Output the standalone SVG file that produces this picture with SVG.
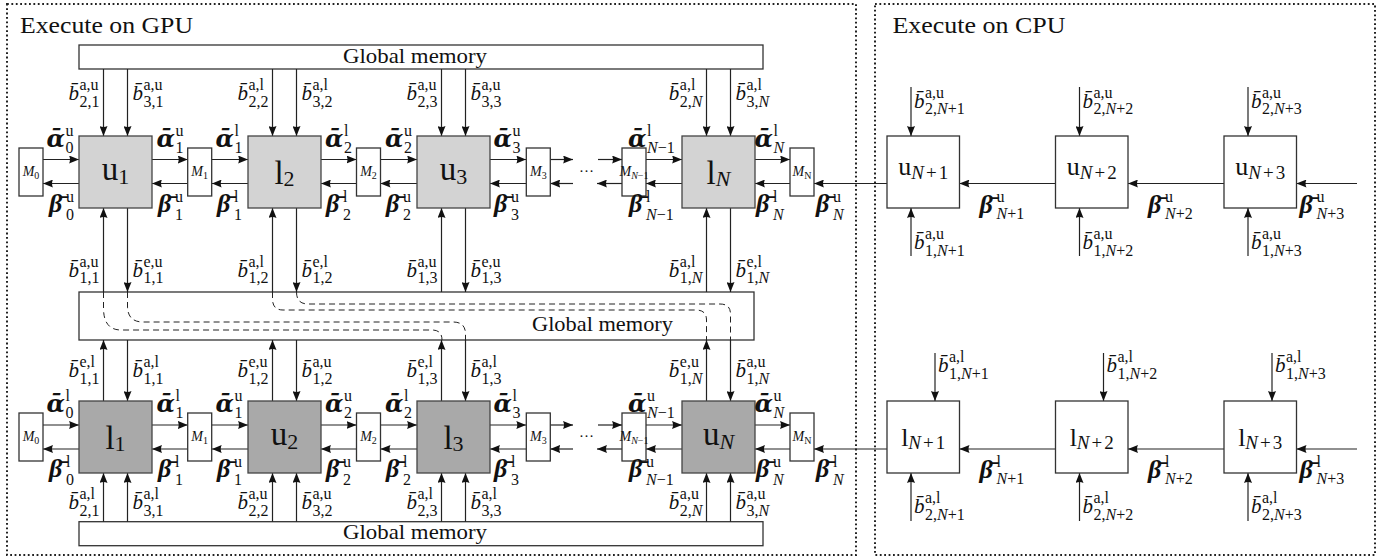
<svg xmlns="http://www.w3.org/2000/svg" width="1396" height="558" viewBox="0 0 1396 558" font-family="'Liberation Serif', serif">
<defs>
<marker id="ah" viewBox="0 0 10 8" refX="10" refY="4" markerWidth="10" markerHeight="8" markerUnits="userSpaceOnUse" orient="auto"><path d="M0,0 L10,4 L0,8 Q2,4 0,0 z" fill="#111"/></marker>
<style>
.frame{fill:none;stroke:#222;stroke-width:2;stroke-dasharray:1.8 2.6}
.box{fill:#fff;stroke:#333;stroke-width:1.3}
.nu{fill:#d3d3d3;stroke:#444;stroke-width:1.3}
.nd{fill:#a9a9a9;stroke:#444;stroke-width:1.3}
.ar{stroke:#222;stroke-width:1.2;fill:none;marker-end:url(#ah)}
.dash{stroke:#222;stroke-width:1;fill:none;stroke-dasharray:6 4}
.tx{font-family:'Liberation Serif','Times New Roman',serif;fill:#111}
.big{font-size:24px}
.gm{font-size:22px}
.b{font-size:21px;font-style:italic}
.s{font-size:16px;font-style:normal;font-weight:normal;font-family:'Liberation Serif',serif}
.i{font-style:italic}
.g{font-family:'DejaVu Serif',serif;font-weight:bold;font-style:italic;font-size:24px}
.gb{font-family:'Liberation Serif',serif;font-weight:bold;font-style:italic;font-size:26px}
.nl{font-size:33px}
.ns{font-size:22px}
.cl{font-size:26px}
.cs{font-size:19px}
.ml{font-size:14px;font-style:italic}
.ms{font-size:10px;font-style:normal}
</style>
</defs>

<g id="frames">
<rect id="gpu-frame" class="frame" x="7" y="4" width="849" height="551"/>
<rect id="cpu-frame" class="frame" x="875" y="4" width="500" height="551"/>
<text class="tx big" x="20" y="33.3" textLength="173" lengthAdjust="spacingAndGlyphs">Execute on GPU</text>
<text class="tx big" x="892.5" y="33.3" textLength="173" lengthAdjust="spacingAndGlyphs">Execute on CPU</text>
</g>

<g id="memory">
<g id="gm-top"><rect class="box" x="79" y="45" width="684" height="24"/><text class="tx gm" x="343" y="63" textLength="144" lengthAdjust="spacingAndGlyphs">Global memory</text></g>
<g id="gm-mid"><rect class="box" x="79" y="292" width="675" height="48"/><text class="tx gm" x="532" y="331" textLength="141" lengthAdjust="spacingAndGlyphs">Global memory</text></g>
<g id="gm-bot"><rect class="box" x="79" y="521.7" width="684" height="24"/><text class="tx gm" x="343" y="538.5" textLength="144" lengthAdjust="spacingAndGlyphs">Global memory</text></g>
</g>

<g id="connectors">
<path class="dash" d="M103.5,292 L103.5,308 Q103.5,330 121,330 L432,330 Q442,330 442,340"/>
<path class="dash" d="M127.5,292 L127.5,306 Q127.5,322 143,322 L453,322 Q465.5,322 465.5,334 L465.5,340"/>
<path class="dash" d="M272.5,292 L272.5,299 Q272.5,310 283,310 L696,310 Q706.5,310 706.5,320 L706.5,340"/>
<path class="dash" d="M296.5,292 Q296.5,304 308,304 L720,304 Q730.5,304 730.5,314 L730.5,340"/>

<path class="ar" d="M103.5,69 V136"/><path class="ar" d="M127.5,69 V136"/>
<path class="ar" d="M272.5,69 V136"/><path class="ar" d="M296.5,69 V136"/>
<path class="ar" d="M441.5,69 V136"/><path class="ar" d="M465.5,69 V136"/>
<path class="ar" d="M706.5,69 V136"/><path class="ar" d="M730.5,69 V136"/>
<path class="ar" d="M103.5,292 V208"/><path class="ar" d="M127.5,208 V292"/>
<path class="ar" d="M272.5,292 V208"/><path class="ar" d="M296.5,208 V292"/>
<path class="ar" d="M441.5,292 V208"/><path class="ar" d="M465.5,208 V292"/>
<path class="ar" d="M706.5,292 V208"/><path class="ar" d="M730.5,208 V292"/>
<path class="ar" d="M103.5,401 V340"/><path class="ar" d="M127.5,340 V401"/>
<path class="ar" d="M272.5,401 V340"/><path class="ar" d="M296.5,340 V401"/>
<path class="ar" d="M441.5,401 V340"/><path class="ar" d="M465.5,340 V401"/>
<path class="ar" d="M706.5,401 V340"/><path class="ar" d="M730.5,340 V401"/>
<path class="ar" d="M103.5,521.7 V473"/><path class="ar" d="M127.5,521.7 V473"/>
<path class="ar" d="M272.5,521.7 V473"/><path class="ar" d="M296.5,521.7 V473"/>
<path class="ar" d="M441.5,521.7 V473"/><path class="ar" d="M465.5,521.7 V473"/>
<path class="ar" d="M706.5,521.7 V473"/><path class="ar" d="M730.5,521.7 V473"/>

<path class="ar" d="M43,159.5 H79"/><path class="ar" d="M152,159.5 H187.7"/>
<path class="ar" d="M211.7,159.5 H248"/><path class="ar" d="M321,159.5 H356.5"/>
<path class="ar" d="M380.5,159.5 H417"/><path class="ar" d="M490,159.5 H526.3"/>
<path class="ar" d="M550.3,159.5 H573"/><path class="ar" d="M598,159.5 H622"/>
<path class="ar" d="M646,159.5 H682"/><path class="ar" d="M755,159.5 H790"/>
<path class="ar" d="M79,183.5 H43"/><path class="ar" d="M187.7,183.5 H152"/>
<path class="ar" d="M248,183.5 H211.7"/><path class="ar" d="M356.5,183.5 H321"/>
<path class="ar" d="M417,183.5 H380.5"/><path class="ar" d="M526.3,183.5 H490"/>
<path class="ar" d="M573,183.5 H550.3"/><path class="ar" d="M622,183.5 H597"/>
<path class="ar" d="M682,183.5 H646"/><path class="ar" d="M790,183.5 H755"/>
<path class="ar" d="M887,183.5 H814"/>
<path class="ar" d="M43,425 H79"/><path class="ar" d="M152,425 H187.7"/>
<path class="ar" d="M211.7,425 H248"/><path class="ar" d="M321,425 H356.5"/>
<path class="ar" d="M380.5,425 H417"/><path class="ar" d="M490,425 H526.3"/>
<path class="ar" d="M550.3,425 H573"/><path class="ar" d="M598,425 H622"/>
<path class="ar" d="M646,425 H682"/><path class="ar" d="M755,425 H790"/>
<path class="ar" d="M79,449 H43"/><path class="ar" d="M187.7,449 H152"/>
<path class="ar" d="M248,449 H211.7"/><path class="ar" d="M356.5,449 H321"/>
<path class="ar" d="M417,449 H380.5"/><path class="ar" d="M526.3,449 H490"/>
<path class="ar" d="M573,449 H550.3"/><path class="ar" d="M622,449 H597"/>
<path class="ar" d="M682,449 H646"/><path class="ar" d="M790,449 H755"/>
<path class="ar" d="M887,449 H814"/>

<path class="ar" d="M1055.5,183.5 H959.5"/><path class="ar" d="M1224,183.5 H1128"/><path class="ar" d="M1357,183.5 H1296.5"/>
<path class="ar" d="M1055.5,449 H959.5"/><path class="ar" d="M1224,449 H1128"/><path class="ar" d="M1357,449 H1296.5"/>
<path class="ar" d="M911,87 V136"/><path class="ar" d="M1079.5,87 V136"/><path class="ar" d="M1248,87 V136"/>
<path class="ar" d="M911,256 V208"/><path class="ar" d="M1079.5,256 V208"/><path class="ar" d="M1248,256 V208"/>
<path class="ar" d="M935,353 V401"/><path class="ar" d="M1103.5,353 V401"/><path class="ar" d="M1272,353 V401"/>
<path class="ar" d="M911,521 V473"/><path class="ar" d="M1079.5,521 V473"/><path class="ar" d="M1248,521 V473"/>
</g>

<g id="gpu-upper">
<g id="node-u1"><rect class="nu" x="79" y="136" width="73" height="72"/><text class="tx nl" x="115.5" y="180" text-anchor="middle">u<tspan class="ns" dy="4">1</tspan></text></g>
<g id="node-l2"><rect class="nu" x="248" y="136" width="73" height="72"/><text class="tx nl" x="284.5" y="184" text-anchor="middle">l<tspan class="ns" dy="2">2</tspan></text></g>
<g id="node-u3"><rect class="nu" x="417" y="136" width="73" height="72"/><text class="tx nl" x="453.5" y="180" text-anchor="middle">u<tspan class="ns" dy="4">3</tspan></text></g>
<g id="node-lN"><rect class="nu" x="682" y="136" width="73" height="72"/><text class="tx nl" x="718.5" y="184" text-anchor="middle">l<tspan class="ns i" dy="2">N</tspan></text></g>
</g>
<g id="gpu-lower">
<g id="node-l1"><rect class="nd" x="79" y="401" width="73" height="72"/><text class="tx nl" x="115.5" y="449" text-anchor="middle">l<tspan class="ns" dy="2">1</tspan></text></g>
<g id="node-u2"><rect class="nd" x="248" y="401" width="73" height="72"/><text class="tx nl" x="284.5" y="445" text-anchor="middle">u<tspan class="ns" dy="4">2</tspan></text></g>
<g id="node-l3"><rect class="nd" x="417" y="401" width="73" height="72"/><text class="tx nl" x="453.5" y="449" text-anchor="middle">l<tspan class="ns" dy="2">3</tspan></text></g>
<g id="node-uN"><rect class="nd" x="682" y="401" width="73" height="72"/><text class="tx nl" x="718.5" y="445" text-anchor="middle">u<tspan class="ns i" dy="4">N</tspan></text></g>
</g>

<g id="m-boxes">
<g id="M0-up"><rect class="box" x="19" y="148" width="24" height="48"/><text class="tx ml" x="31" y="176" text-anchor="middle">M<tspan class="ms" dy="2.5">0</tspan></text></g>
<g id="M1-up"><rect class="box" x="187.7" y="148" width="24" height="48"/><text class="tx ml" x="199.7" y="176" text-anchor="middle">M<tspan class="ms" dy="2.5">1</tspan></text></g>
<g id="M2-up"><rect class="box" x="356.5" y="148" width="24" height="48"/><text class="tx ml" x="368.5" y="176" text-anchor="middle">M<tspan class="ms" dy="2.5">2</tspan></text></g>
<g id="M3-up"><rect class="box" x="526.3" y="148" width="24" height="48"/><text class="tx ml" x="538.3" y="176" text-anchor="middle">M<tspan class="ms" dy="2.5">3</tspan></text></g>
<g id="MNm1-up"><rect class="box" x="622" y="148" width="24" height="48"/><text class="tx ml" x="634" y="176" text-anchor="middle">M<tspan class="ms" dy="2.5"><tspan class="i">N</tspan>−1</tspan></text></g>
<g id="MN-up"><rect class="box" x="790" y="148" width="24" height="48"/><text class="tx ml" x="802" y="176" text-anchor="middle">M<tspan class="ms i" dy="2.5">N</tspan></text></g>
<g id="M0-lo"><rect class="box" x="19" y="413" width="24" height="48"/><text class="tx ml" x="31" y="441" text-anchor="middle">M<tspan class="ms" dy="2.5">0</tspan></text></g>
<g id="M1-lo"><rect class="box" x="187.7" y="413" width="24" height="48"/><text class="tx ml" x="199.7" y="441" text-anchor="middle">M<tspan class="ms" dy="2.5">1</tspan></text></g>
<g id="M2-lo"><rect class="box" x="356.5" y="413" width="24" height="48"/><text class="tx ml" x="368.5" y="441" text-anchor="middle">M<tspan class="ms" dy="2.5">2</tspan></text></g>
<g id="M3-lo"><rect class="box" x="526.3" y="413" width="24" height="48"/><text class="tx ml" x="538.3" y="441" text-anchor="middle">M<tspan class="ms" dy="2.5">3</tspan></text></g>
<g id="MNm1-lo"><rect class="box" x="622" y="413" width="24" height="48"/><text class="tx ml" x="634" y="441" text-anchor="middle">M<tspan class="ms" dy="2.5"><tspan class="i">N</tspan>−1</tspan></text></g>
<g id="MN-lo"><rect class="box" x="790" y="413" width="24" height="48"/><text class="tx ml" x="802" y="441" text-anchor="middle">M<tspan class="ms i" dy="2.5">N</tspan></text></g>
<text class="tx" x="586.5" y="172" font-size="15" text-anchor="middle">…</text>
<text class="tx" x="586.5" y="437" font-size="15" text-anchor="middle">…</text>
</g>

<g id="cpu-nodes">
<g id="node-uN1"><rect class="box" x="887" y="136" width="72.5" height="72"/><text class="tx cl" x="923.2" y="174.5" text-anchor="middle">u<tspan class="cs i" dy="4.5">N</tspan><tspan class="cs" dx="2">+</tspan><tspan class="cs" dx="2">1</tspan></text></g>
<g id="node-uN2"><rect class="box" x="1055.5" y="136" width="72.5" height="72"/><text class="tx cl" x="1091.7" y="174.5" text-anchor="middle">u<tspan class="cs i" dy="4.5">N</tspan><tspan class="cs" dx="2">+</tspan><tspan class="cs" dx="2">2</tspan></text></g>
<g id="node-uN3"><rect class="box" x="1224" y="136" width="72.5" height="72"/><text class="tx cl" x="1260.2" y="174.5" text-anchor="middle">u<tspan class="cs i" dy="4.5">N</tspan><tspan class="cs" dx="2">+</tspan><tspan class="cs" dx="2">3</tspan></text></g>
<g id="node-lN1"><rect class="box" x="887" y="401" width="72.5" height="72"/><text class="tx cl" x="923.2" y="446" text-anchor="middle">l<tspan class="cs i" dy="3">N</tspan><tspan class="cs" dx="2">+</tspan><tspan class="cs" dx="2">1</tspan></text></g>
<g id="node-lN2"><rect class="box" x="1055.5" y="401" width="72.5" height="72"/><text class="tx cl" x="1091.7" y="446" text-anchor="middle">l<tspan class="cs i" dy="3">N</tspan><tspan class="cs" dx="2">+</tspan><tspan class="cs" dx="2">2</tspan></text></g>
<g id="node-lN3"><rect class="box" x="1224" y="401" width="72.5" height="72"/><text class="tx cl" x="1260.2" y="446" text-anchor="middle">l<tspan class="cs i" dy="3">N</tspan><tspan class="cs" dx="2">+</tspan><tspan class="cs" dx="2">3</tspan></text></g>
</g>

<g id="labels">
<text class="tx b" x="68.5" y="100">b&#x304;<tspan class="s" x="79.5" y="90">a,u</tspan><tspan class="s" x="79.5" y="106.5">2,1</tspan></text>
<text class="tx b" x="132.5" y="100">b&#x304;<tspan class="s" x="143.5" y="90">a,u</tspan><tspan class="s" x="143.5" y="106.5">3,1</tspan></text>
<text class="tx b" x="237.5" y="100">b&#x304;<tspan class="s" x="248.5" y="90">a,l</tspan><tspan class="s" x="248.5" y="106.5">2,2</tspan></text>
<text class="tx b" x="301.5" y="100">b&#x304;<tspan class="s" x="312.5" y="90">a,l</tspan><tspan class="s" x="312.5" y="106.5">3,2</tspan></text>
<text class="tx b" x="406.5" y="100">b&#x304;<tspan class="s" x="417.5" y="90">a,u</tspan><tspan class="s" x="417.5" y="106.5">2,3</tspan></text>
<text class="tx b" x="470.5" y="100">b&#x304;<tspan class="s" x="481.5" y="90">a,u</tspan><tspan class="s" x="481.5" y="106.5">3,3</tspan></text>
<text class="tx b" x="668.8" y="100">b&#x304;<tspan class="s" x="679.8" y="90">a,l</tspan><tspan class="s" x="679.8" y="106.5">2,<tspan class="i">N</tspan></tspan></text>
<text class="tx b" x="735.5" y="100">b&#x304;<tspan class="s" x="746.5" y="90">a,l</tspan><tspan class="s" x="746.5" y="106.5">3,<tspan class="i">N</tspan></tspan></text>
<text class="tx b" x="68.5" y="276.5">b&#x304;<tspan class="s" x="79.5" y="266.5">a,u</tspan><tspan class="s" x="79.5" y="283">1,1</tspan></text>
<text class="tx b" x="132.5" y="276.5">b&#x304;<tspan class="s" x="143.5" y="266.5">e,u</tspan><tspan class="s" x="143.5" y="283">1,1</tspan></text>
<text class="tx b" x="237.5" y="276.5">b&#x304;<tspan class="s" x="248.5" y="266.5">a,l</tspan><tspan class="s" x="248.5" y="283">1,2</tspan></text>
<text class="tx b" x="301.5" y="276.5">b&#x304;<tspan class="s" x="312.5" y="266.5">e,l</tspan><tspan class="s" x="312.5" y="283">1,2</tspan></text>
<text class="tx b" x="406.5" y="276.5">b&#x304;<tspan class="s" x="417.5" y="266.5">a,u</tspan><tspan class="s" x="417.5" y="283">1,3</tspan></text>
<text class="tx b" x="470.5" y="276.5">b&#x304;<tspan class="s" x="481.5" y="266.5">e,u</tspan><tspan class="s" x="481.5" y="283">1,3</tspan></text>
<text class="tx b" x="668.8" y="276.5">b&#x304;<tspan class="s" x="679.8" y="266.5">a,l</tspan><tspan class="s" x="679.8" y="283">1,<tspan class="i">N</tspan></tspan></text>
<text class="tx b" x="735.5" y="276.5">b&#x304;<tspan class="s" x="746.5" y="266.5">e,l</tspan><tspan class="s" x="746.5" y="283">1,<tspan class="i">N</tspan></tspan></text>
<text class="tx b" x="68.5" y="377">b&#x304;<tspan class="s" x="79.5" y="367">e,l</tspan><tspan class="s" x="79.5" y="383.5">1,1</tspan></text>
<text class="tx b" x="132.5" y="377">b&#x304;<tspan class="s" x="143.5" y="367">a,l</tspan><tspan class="s" x="143.5" y="383.5">1,1</tspan></text>
<text class="tx b" x="237.5" y="377">b&#x304;<tspan class="s" x="248.5" y="367">e,u</tspan><tspan class="s" x="248.5" y="383.5">1,2</tspan></text>
<text class="tx b" x="301.5" y="377">b&#x304;<tspan class="s" x="312.5" y="367">a,u</tspan><tspan class="s" x="312.5" y="383.5">1,2</tspan></text>
<text class="tx b" x="406.5" y="377">b&#x304;<tspan class="s" x="417.5" y="367">e,l</tspan><tspan class="s" x="417.5" y="383.5">1,3</tspan></text>
<text class="tx b" x="470.5" y="377">b&#x304;<tspan class="s" x="481.5" y="367">a,l</tspan><tspan class="s" x="481.5" y="383.5">1,3</tspan></text>
<text class="tx b" x="668.8" y="377">b&#x304;<tspan class="s" x="679.8" y="367">e,u</tspan><tspan class="s" x="679.8" y="383.5">1,<tspan class="i">N</tspan></tspan></text>
<text class="tx b" x="735.5" y="377">b&#x304;<tspan class="s" x="746.5" y="367">a,u</tspan><tspan class="s" x="746.5" y="383.5">1,<tspan class="i">N</tspan></tspan></text>
<text class="tx b" x="68.5" y="509">b&#x304;<tspan class="s" x="79.5" y="499">a,l</tspan><tspan class="s" x="79.5" y="515.5">2,1</tspan></text>
<text class="tx b" x="132.5" y="509">b&#x304;<tspan class="s" x="143.5" y="499">a,l</tspan><tspan class="s" x="143.5" y="515.5">3,1</tspan></text>
<text class="tx b" x="237.5" y="509">b&#x304;<tspan class="s" x="248.5" y="499">a,u</tspan><tspan class="s" x="248.5" y="515.5">2,2</tspan></text>
<text class="tx b" x="301.5" y="509">b&#x304;<tspan class="s" x="312.5" y="499">a,u</tspan><tspan class="s" x="312.5" y="515.5">3,2</tspan></text>
<text class="tx b" x="406.5" y="509">b&#x304;<tspan class="s" x="417.5" y="499">a,l</tspan><tspan class="s" x="417.5" y="515.5">2,3</tspan></text>
<text class="tx b" x="470.5" y="509">b&#x304;<tspan class="s" x="481.5" y="499">a,l</tspan><tspan class="s" x="481.5" y="515.5">3,3</tspan></text>
<text class="tx b" x="668.8" y="509">b&#x304;<tspan class="s" x="679.8" y="499">a,u</tspan><tspan class="s" x="679.8" y="515.5">2,<tspan class="i">N</tspan></tspan></text>
<text class="tx b" x="735.5" y="509">b&#x304;<tspan class="s" x="746.5" y="499">a,u</tspan><tspan class="s" x="746.5" y="515.5">3,<tspan class="i">N</tspan></tspan></text>

<text class="tx g" x="46.5" y="146.5">α&#x304;<tspan class="s" x="65.5" y="136">u</tspan><tspan class="s" x="65.5" y="153">0</tspan></text>
<text class="tx g" x="156.5" y="146.5">α&#x304;<tspan class="s" x="175.5" y="136">u</tspan><tspan class="s" x="175.5" y="153">1</tspan></text>
<text class="tx g" x="215.5" y="146.5">α&#x304;<tspan class="s" x="234.5" y="136">l</tspan><tspan class="s" x="234.5" y="153">1</tspan></text>
<text class="tx g" x="325" y="146.5">α&#x304;<tspan class="s" x="344" y="136">l</tspan><tspan class="s" x="344" y="153">2</tspan></text>
<text class="tx g" x="385" y="146.5">α&#x304;<tspan class="s" x="404" y="136">u</tspan><tspan class="s" x="404" y="153">2</tspan></text>
<text class="tx g" x="493.5" y="146.5">α&#x304;<tspan class="s" x="512.5" y="136">u</tspan><tspan class="s" x="512.5" y="153">3</tspan></text>
<text class="tx g" x="628" y="146.5">α&#x304;<tspan class="s" x="647" y="136">l</tspan><tspan class="s" x="647" y="153"><tspan class="i">N</tspan>−1</tspan></text>
<text class="tx g" x="754.5" y="146.5">α&#x304;<tspan class="s" x="773.5" y="136">l</tspan><tspan class="s i" x="773.5" y="153">N</tspan></text>
<text class="tx gb" x="49" y="212">β&#x304;<tspan class="s" x="66" y="202">u</tspan><tspan class="s" x="66" y="219.5">0</tspan></text>
<text class="tx gb" x="158" y="212">β&#x304;<tspan class="s" x="175" y="202">u</tspan><tspan class="s" x="175" y="219.5">1</tspan></text>
<text class="tx gb" x="217" y="212">β&#x304;<tspan class="s" x="234" y="202">l</tspan><tspan class="s" x="234" y="219.5">1</tspan></text>
<text class="tx gb" x="326" y="212">β&#x304;<tspan class="s" x="343" y="202">l</tspan><tspan class="s" x="343" y="219.5">2</tspan></text>
<text class="tx gb" x="386" y="212">β&#x304;<tspan class="s" x="403" y="202">u</tspan><tspan class="s" x="403" y="219.5">2</tspan></text>
<text class="tx gb" x="494" y="212">β&#x304;<tspan class="s" x="511" y="202">u</tspan><tspan class="s" x="511" y="219.5">3</tspan></text>
<text class="tx gb" x="629" y="212">β&#x304;<tspan class="s" x="646" y="202">l</tspan><tspan class="s" x="646" y="219.5"><tspan class="i">N</tspan>−1</tspan></text>
<text class="tx gb" x="756" y="212">β&#x304;<tspan class="s" x="773" y="202">l</tspan><tspan class="s i" x="773" y="219.5">N</tspan></text>
<text class="tx gb" x="816" y="212">β&#x304;<tspan class="s" x="833" y="202">u</tspan><tspan class="s i" x="833" y="219.5">N</tspan></text>
<text class="tx g" x="46.5" y="411.5">α&#x304;<tspan class="s" x="65.5" y="401">l</tspan><tspan class="s" x="65.5" y="418">0</tspan></text>
<text class="tx g" x="156.5" y="411.5">α&#x304;<tspan class="s" x="175.5" y="401">l</tspan><tspan class="s" x="175.5" y="418">1</tspan></text>
<text class="tx g" x="215.5" y="411.5">α&#x304;<tspan class="s" x="234.5" y="401">u</tspan><tspan class="s" x="234.5" y="418">1</tspan></text>
<text class="tx g" x="325" y="411.5">α&#x304;<tspan class="s" x="344" y="401">u</tspan><tspan class="s" x="344" y="418">2</tspan></text>
<text class="tx g" x="385" y="411.5">α&#x304;<tspan class="s" x="404" y="401">l</tspan><tspan class="s" x="404" y="418">2</tspan></text>
<text class="tx g" x="493.5" y="411.5">α&#x304;<tspan class="s" x="512.5" y="401">l</tspan><tspan class="s" x="512.5" y="418">3</tspan></text>
<text class="tx g" x="628" y="411.5">α&#x304;<tspan class="s" x="647" y="401">u</tspan><tspan class="s" x="647" y="418"><tspan class="i">N</tspan>−1</tspan></text>
<text class="tx g" x="754.5" y="411.5">α&#x304;<tspan class="s" x="773.5" y="401">u</tspan><tspan class="s i" x="773.5" y="418">N</tspan></text>
<text class="tx gb" x="49" y="477">β&#x304;<tspan class="s" x="66" y="467">l</tspan><tspan class="s" x="66" y="484.5">0</tspan></text>
<text class="tx gb" x="158" y="477">β&#x304;<tspan class="s" x="175" y="467">l</tspan><tspan class="s" x="175" y="484.5">1</tspan></text>
<text class="tx gb" x="217" y="477">β&#x304;<tspan class="s" x="234" y="467">u</tspan><tspan class="s" x="234" y="484.5">1</tspan></text>
<text class="tx gb" x="326" y="477">β&#x304;<tspan class="s" x="343" y="467">u</tspan><tspan class="s" x="343" y="484.5">2</tspan></text>
<text class="tx gb" x="386" y="477">β&#x304;<tspan class="s" x="403" y="467">l</tspan><tspan class="s" x="403" y="484.5">2</tspan></text>
<text class="tx gb" x="494" y="477">β&#x304;<tspan class="s" x="511" y="467">l</tspan><tspan class="s" x="511" y="484.5">3</tspan></text>
<text class="tx gb" x="629" y="477">β&#x304;<tspan class="s" x="646" y="467">u</tspan><tspan class="s" x="646" y="484.5"><tspan class="i">N</tspan>−1</tspan></text>
<text class="tx gb" x="756" y="477">β&#x304;<tspan class="s" x="773" y="467">u</tspan><tspan class="s i" x="773" y="484.5">N</tspan></text>
<text class="tx gb" x="816" y="477">β&#x304;<tspan class="s" x="833" y="467">l</tspan><tspan class="s i" x="833" y="484.5">N</tspan></text>

<text class="tx b" x="914" y="107.5">b&#x304;<tspan class="s" x="925" y="97.5">a,u</tspan><tspan class="s" x="925" y="114">2,<tspan class="i">N</tspan>+1</tspan></text>
<text class="tx b" x="1082.5" y="107.5">b&#x304;<tspan class="s" x="1093.5" y="97.5">a,u</tspan><tspan class="s" x="1093.5" y="114">2,<tspan class="i">N</tspan>+2</tspan></text>
<text class="tx b" x="1251" y="107.5">b&#x304;<tspan class="s" x="1262" y="97.5">a,u</tspan><tspan class="s" x="1262" y="114">2,<tspan class="i">N</tspan>+3</tspan></text>
<text class="tx b" x="914" y="249">b&#x304;<tspan class="s" x="925" y="239">a,u</tspan><tspan class="s" x="925" y="255.5">1,<tspan class="i">N</tspan>+1</tspan></text>
<text class="tx b" x="1082.5" y="249">b&#x304;<tspan class="s" x="1093.5" y="239">a,u</tspan><tspan class="s" x="1093.5" y="255.5">1,<tspan class="i">N</tspan>+2</tspan></text>
<text class="tx b" x="1251" y="249">b&#x304;<tspan class="s" x="1262" y="239">a,u</tspan><tspan class="s" x="1262" y="255.5">1,<tspan class="i">N</tspan>+3</tspan></text>
<text class="tx b" x="938" y="372">b&#x304;<tspan class="s" x="949" y="362">a,l</tspan><tspan class="s" x="949" y="378.5">1,<tspan class="i">N</tspan>+1</tspan></text>
<text class="tx b" x="1106.5" y="372">b&#x304;<tspan class="s" x="1117.5" y="362">a,l</tspan><tspan class="s" x="1117.5" y="378.5">1,<tspan class="i">N</tspan>+2</tspan></text>
<text class="tx b" x="1275" y="372">b&#x304;<tspan class="s" x="1286" y="362">a,l</tspan><tspan class="s" x="1286" y="378.5">1,<tspan class="i">N</tspan>+3</tspan></text>
<text class="tx b" x="914" y="513">b&#x304;<tspan class="s" x="925" y="503">a,l</tspan><tspan class="s" x="925" y="519.5">2,<tspan class="i">N</tspan>+1</tspan></text>
<text class="tx b" x="1082.5" y="513">b&#x304;<tspan class="s" x="1093.5" y="503">a,l</tspan><tspan class="s" x="1093.5" y="519.5">2,<tspan class="i">N</tspan>+2</tspan></text>
<text class="tx b" x="1251" y="513">b&#x304;<tspan class="s" x="1262" y="503">a,l</tspan><tspan class="s" x="1262" y="519.5">2,<tspan class="i">N</tspan>+3</tspan></text>
<text class="tx gb" x="979.5" y="213">β&#x304;<tspan class="s" x="996.5" y="202">u</tspan><tspan class="s" x="996.5" y="218.5"><tspan class="i">N</tspan>+1</tspan></text>
<text class="tx gb" x="1148" y="213">β&#x304;<tspan class="s" x="1165" y="202">u</tspan><tspan class="s" x="1165" y="218.5"><tspan class="i">N</tspan>+2</tspan></text>
<text class="tx gb" x="1299.5" y="213">β&#x304;<tspan class="s" x="1316.5" y="202">u</tspan><tspan class="s" x="1316.5" y="218.5"><tspan class="i">N</tspan>+3</tspan></text>
<text class="tx gb" x="979.5" y="478">β&#x304;<tspan class="s" x="996.5" y="467">l</tspan><tspan class="s" x="996.5" y="483.5"><tspan class="i">N</tspan>+1</tspan></text>
<text class="tx gb" x="1148" y="478">β&#x304;<tspan class="s" x="1165" y="467">l</tspan><tspan class="s" x="1165" y="483.5"><tspan class="i">N</tspan>+2</tspan></text>
<text class="tx gb" x="1299.5" y="478">β&#x304;<tspan class="s" x="1316.5" y="467">l</tspan><tspan class="s" x="1316.5" y="483.5"><tspan class="i">N</tspan>+3</tspan></text>
</g>
</svg>
